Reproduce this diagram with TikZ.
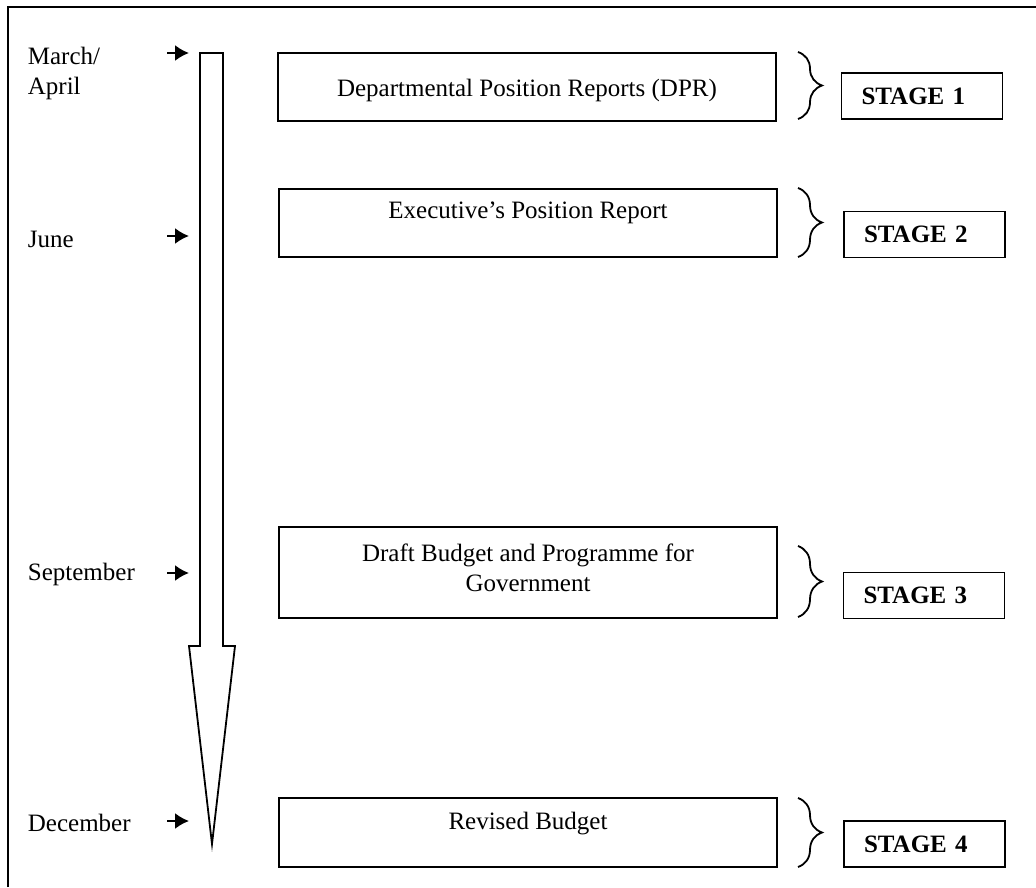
\documentclass[tikz,border=0pt]{standalone}
\usepackage{fontspec}
\setmainfont{Liberation Serif}
\usetikzlibrary{arrows.meta, calc, decorations.pathreplacing}

\begin{document}
\begin{tikzpicture}[x=0.5pt, y=-0.5pt, line width=0.9pt,
  every node/.style={font=\fontsize{12.5}{15}\selectfont},
  report/.style={draw, minimum width=249pt, inner sep=0pt},
  stagebox/.style={draw, minimum height=23pt, inner xsep=10pt, inner ysep=0pt,
    text width=60.5pt, align=left, font=\fontsize{12.5}{15}\selectfont\bfseries},
  month/.style={anchor=west, align=left, inner sep=0pt},
  tick/.style={-{Latex[length=7pt,width=8pt]}, line width=1pt},
  curly/.style={decorate, decoration={brace, amplitude=12pt}}]
\useasboundingbox (0,0) rectangle (1036,887);
% Frame round the page (top and left sides only)
\draw (8,887) -- (8,7) -- (1036,7);
% Big time arrow running down from March to December
\draw (200,53) -- (223,53) -- (223,646) -- (235,646) -- (212,844)
  -- (189,646) -- (200,646) -- cycle;
% Months on the left
\node[month] (mar) at (27,73) {March/\\April};
\node[month] (jun) at (27,239) {June};
\node[month] (sep) at (27,574) {September};
\node[month] (dec) at (27,823) {December};
% Small arrows pointing at the time arrow
\foreach \y/\n in {53/1, 236/2, 573/3, 821/4} {
  \coordinate (from\n) at (167,\y);
  \coordinate (to\n) at (189,\y);
  \draw[tick] (from\n) -- (to\n);
}
% Report boxes, text set near the top of each
\node[report, minimum height=34pt] (dpr) at (527,87) {};
\node (dprtext) at ($(dpr.north)+(0,38)$) {Departmental Position Reports (DPR)};
\node[report, minimum height=34pt] (epr) at (528,223) {};
\node (eprtext) at ($(epr.north)+(0,25)$) {Executive’s Position Report};
\node[report, minimum height=45.5pt] (draft) at (528,572.5) {};
\node[align=center] (drafttext) at ($(draft.north)+(0,42)$)
  {Draft Budget and Programme for\\Government};
\node[report, minimum height=34.5pt] (rev) at (528,832.5) {};
\node (revtext) at ($(rev.north)+(0,26)$) {Revised Budget};
% Braces gathering each report into a stage
\draw[curly] (798,52) -- (798,119);
\draw[curly] (798,188) -- (798,257);
\draw[curly] (798,546) -- (798,617);
\draw[curly] (798,798) -- (798,867);
% Stage boxes
\node[stagebox] (s1) at (922,96) {STAGE 1};
\node[stagebox] (s2) at (924.5,234.5) {STAGE 2};
\node[stagebox] (s3) at (924,595.5) {STAGE 3};
\node[stagebox] (s4) at (924.5,844) {STAGE 4};
\end{tikzpicture}
\end{document}
